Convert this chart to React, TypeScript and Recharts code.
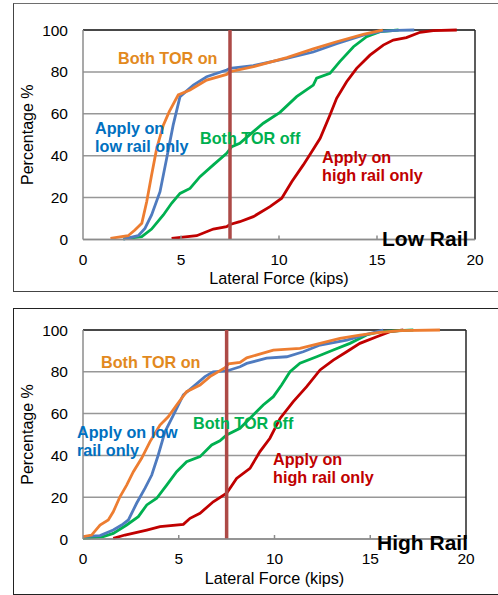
import React from 'react';
import { LineChart, Line, XAxis, YAxis, CartesianGrid, ReferenceLine, Label } from 'recharts';

const xTicks = [0, 5, 10, 15, 20];
const yTicks = [0, 20, 40, 60, 80, 100];
const markerForce = 7.5;

// ---- Low Rail ----
const lowBothOnX = [1.4, 2.3, 2.65, 3.0, 3.25, 3.5, 3.76, 4.1, 4.4, 4.86, 5.46, 6.31, 7.33, 7.5, 8.7, 10.4, 11.75, 12.94, 14.3, 15.15, 15.3];
const lowBothOnY = [0.5, 1.8, 4.5, 7.7, 18, 30.8, 43.5, 54.6, 61, 69, 71.4, 76.1, 78.8, 80.1, 82.5, 86.8, 91, 94.4, 97.9, 99.7, 100];
const lowLowOnlyX = [2.06, 2.82, 3.16, 3.5, 3.93, 4.27, 4.6, 4.95, 5.63, 6.31, 7.33, 7.5, 8.69, 10.39, 11.75, 12.94, 14.3, 15.2, 16.0, 16.9];
const lowLowOnlyY = [0.2, 1.8, 5.3, 11.7, 22.8, 38.8, 54.6, 68.2, 73.7, 77.7, 80.9, 81.7, 83.0, 86.5, 89.5, 93.5, 97.5, 99.3, 99.8, 100];
const lowBothOffX = [2.06, 3.0, 3.5, 4.1, 4.52, 4.95, 5.46, 5.97, 6.65, 7.33, 7.59, 8.0, 8.69, 9.2, 10.05, 10.9, 11.75, 11.92, 12.6, 13.1, 13.8, 14.47, 15.15, 16.1];
const lowBothOffY = [0.3, 1.4, 5, 11.7, 17.3, 22, 24.4, 30, 35.6, 41.1, 44.3, 45.9, 51.5, 55.5, 60.7, 68.2, 73.7, 77, 79.3, 84.9, 92, 96.8, 99.2, 100];
const lowHighOnlyX = [4.52, 5.8, 6.65, 7.33, 7.5, 8.0, 8.69, 9.54, 10.14, 10.65, 11.24, 11.67, 12.1, 12.6, 12.94, 13.45, 13.96, 14.64, 15.32, 15.83, 16.5, 17.2, 17.87, 19.07];
const lowHighOnlyY = [0.5, 1.8, 5, 6.1, 7.2, 8.5, 10.9, 15.7, 19.7, 27.6, 35.6, 41.9, 48.3, 59.4, 67.4, 75.3, 81.7, 88, 92.8, 95.2, 96.4, 98.9, 99.7, 100];

// ---- High Rail ----
const highBothOnX = [0, 0.45, 0.89, 1.32, 1.58, 1.93, 2.28, 2.63, 3.06, 3.5, 4.02, 4.45, 4.89, 5.41, 6.11, 6.63, 7.42, 7.6, 8.2, 8.55, 9.94, 11.33, 12.38, 13.42, 14.46, 15.5, 16.55, 18.64];
const highBothOnY = [1.1, 1.9, 6.7, 9.1, 13, 20.2, 25.8, 32.2, 38.6, 46.6, 54.5, 58.5, 64.1, 70.5, 73.7, 77.7, 82, 83.8, 84.5, 86.7, 90.4, 91.2, 93.6, 96, 97.6, 98.9, 99.7, 100];
const highLowOnlyX = [0, 0.89, 1.58, 2.02, 2.37, 2.8, 3.24, 3.59, 3.93, 4.28, 4.72, 5.24, 5.76, 6.37, 6.8, 7.5, 8.2, 8.55, 9.59, 10.64, 11.5, 12.38, 13.77, 14.81, 15.68];
const highLowOnlyY = [1.1, 1.6, 4.3, 6.7, 9.1, 17.1, 24.3, 30.6, 40.2, 51.3, 59.3, 68.9, 72.9, 77.7, 80, 80.4, 82.4, 84, 86.5, 87.2, 89.6, 92.8, 95.2, 97.9, 100];
const highBothOffX = [0, 1.06, 1.58, 2.28, 2.89, 3.33, 3.85, 4.37, 4.89, 5.41, 6.11, 6.72, 7.15, 7.5, 8.2, 8.89, 9.41, 9.94, 10.37, 10.81, 11.33, 12.2, 13.07, 13.94, 14.81, 15.5, 17.25];
const highBothOffY = [0.3, 1.1, 2.7, 6.7, 10.7, 16.3, 19.5, 25.8, 32.2, 37, 39.4, 45, 47, 49.8, 53, 59.3, 64.1, 68.1, 73.7, 80, 84.1, 87.2, 90.4, 93.6, 97.6, 99.2, 100];
const highHighOnlyX = [1.58, 2.19, 3.33, 4.02, 5.24, 5.59, 6.11, 6.8, 7.5, 8.02, 8.72, 9.24, 9.76, 10.29, 10.98, 11.68, 12.38, 13.07, 13.77, 14.46, 15.34, 16.03, 16.73];
const highHighOnlyY = [0.3, 1.9, 4.3, 5.9, 7, 9.9, 12.3, 17.8, 21.9, 29, 33.8, 41.8, 48.2, 57.7, 65.7, 72.9, 80.9, 85.6, 89.6, 93.6, 96.8, 99.2, 100];

const zip = (xs: number[], ys: number[]) => xs.map((x, i) => ({ x, y: ys[i] }));

const C_ORANGE = '#ED7D31';
const C_BLUE = '#4F7BBF';
const C_GREEN = '#00B050';
const C_RED = '#C00000';
const FONT = '"Liberation Sans", Arial, sans-serif';

const XTick = (props: any) => {
  const { x, y, payload } = props;
  const v = payload.value;
  return (
    <g>
      {v > 0 && v < 20 && <line x1={x} x2={x} y1={y} y2={y - 4} stroke="#8c8c8c" strokeWidth={1.5} />}
      <text x={x} y={y + 20} dy="0.35em" textAnchor="middle" fontSize={15.5} fill="#000" fontFamily={FONT}>{v}</text>
    </g>
  );
};

type Series = { data: { x: number; y: number }[]; color: string };

function Chart(props: { top: number; width: number; height: number; rightMargin: number; xAxisHeight: number; series: Series[] }) {
  const { top, width, height, rightMargin, xAxisHeight, series } = props;
  return (
    <div style={{ position: 'absolute', left: 0, top, width, height }}>
      <LineChart width={width} height={height} margin={{ top: 30, right: rightMargin, left: 0, bottom: 0 }}>
        <CartesianGrid vertical={false} stroke="#979797" strokeWidth={1.5} />
        <XAxis
          type="number"
          dataKey="x"
          domain={[0, 20]}
          ticks={xTicks}
          allowDataOverflow
          height={xAxisHeight}
          tickSize={0}
          tickMargin={0}
          tick={<XTick />}
          axisLine={{ stroke: '#8c8c8c', strokeWidth: 1.5 }}
          tickLine={false}
        >
          <Label value="Lateral Force (kips)" position="insideTop" offset={33} fontSize={16.2} fill="#000" />
        </XAxis>
        <YAxis
          type="number"
          dataKey="y"
          domain={[0, 100]}
          ticks={yTicks}
          width={83}
          tickSize={0}
          tickMargin={15}
          tick={{ fontSize: 15.5, fill: '#000' }}
          axisLine={{ stroke: '#8c8c8c', strokeWidth: 1.5 }}
          tickLine={false}
        >
          <Label value="Percentage %" angle={-90} position="insideLeft" offset={27} fontSize={16} fill="#000" style={{ textAnchor: 'middle' }} />
        </YAxis>
        <ReferenceLine y={100} stroke="#262626" strokeWidth={1.5} />
        <ReferenceLine x={20} stroke="#262626" strokeWidth={1.5} />
        {series.map((s, i) => (
          <Line key={i} data={s.data} dataKey="y" type="linear" stroke={s.color} strokeWidth={2.8} dot={false} isAnimationActive={false} />
        ))}
        <ReferenceLine x={markerForce} stroke="#AD4A47" strokeWidth={3.5} />
      </LineChart>
    </div>
  );
}

const lbl = (left: number, top: number, color: string, text: string, size = 16.2, lh = 18.5) => (
  <div style={{ position: 'absolute', left, top, color, fontSize: size, fontWeight: 'bold', lineHeight: lh + 'px', whiteSpace: 'pre' }}>{text}</div>
);

export default function App() {
  const lowSeries: Series[] = [
    { data: zip(lowHighOnlyX, lowHighOnlyY), color: C_RED },
    { data: zip(lowBothOffX, lowBothOffY), color: C_GREEN },
    { data: zip(lowLowOnlyX, lowLowOnlyY), color: C_BLUE },
    { data: zip(lowBothOnX, lowBothOnY), color: C_ORANGE },
  ];
  const highSeries: Series[] = [
    { data: zip(highHighOnlyX, highHighOnlyY), color: C_RED },
    { data: zip(highBothOffX, highBothOffY), color: C_GREEN },
    { data: zip(highLowOnlyX, highLowOnlyY), color: C_BLUE },
    { data: zip(highBothOnX, highBothOnY), color: C_ORANGE },
  ];
  return (
    <div style={{ position: 'absolute', left: 0, top: 0, width: 498, height: 595, overflow: 'hidden', background: '#fff', fontFamily: FONT }}>
      <div style={{ position: 'absolute', left: 13, top: 3, width: 500, height: 287, border: '1px solid #6e6e6e', borderLeftColor: '#444', borderBottomColor: '#444' }} />
      <div style={{ position: 'absolute', left: 13, top: 308, width: 500, height: 285, border: '1.5px solid #222' }} />
      <Chart top={0} width={498} height={290} rightMargin={23} xAxisHeight={50.5} series={lowSeries} />
      <Chart top={300} width={498} height={295} rightMargin={32} xAxisHeight={56} series={highSeries} />

      {lbl(118, 48.5, '#E2891E', 'Both TOR on')}
      {lbl(95, 118.5, '#0070C0', 'Apply on\nlow rail only')}
      {lbl(200, 128.5, C_GREEN, 'Both TOR off')}
      {lbl(322, 147.5, C_RED, 'Apply on\nhigh rail only')}
      {lbl(382, 226.5, '#000', 'Low Rail', 21, 24)}

      {lbl(101, 352.5, '#E2891E', 'Both TOR on')}
      {lbl(77, 422.5, '#0070C0', 'Apply on low\nrail only')}
      {lbl(193, 413.5, C_GREEN, 'Both TOR off')}
      {lbl(273, 449.5, C_RED, 'Apply on\nhigh rail only')}
      {lbl(377, 530.5, '#000', 'High Rail', 21, 24)}
    </div>
  );
}
